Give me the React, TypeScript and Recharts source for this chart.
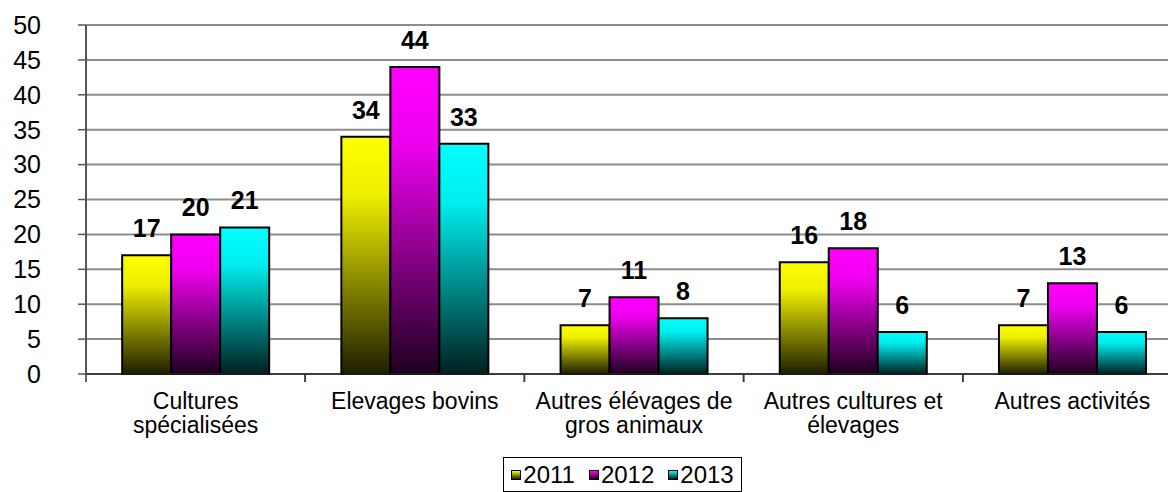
import React from 'react'
import { BarChart, Bar, XAxis, YAxis, CartesianGrid, LabelList } from 'recharts'

const categories = [
  'Cultures spécialisées',
  'Elevages bovins',
  'Autres élévages de gros animaux',
  'Autres cultures et élevages',
  'Autres activités',
]
// how each category label wraps under the axis
const categoryLines: Record<string, string[]> = {
  'Cultures spécialisées': ['Cultures', 'spécialisées'],
  'Elevages bovins': ['Elevages bovins'],
  'Autres élévages de gros animaux': ['Autres élévages de', 'gros animaux'],
  'Autres cultures et élevages': ['Autres cultures et', 'élevages'],
  'Autres activités': ['Autres activités'],
}
const values2011 = [17, 34, 7, 16, 7]
const values2012 = [20, 44, 11, 18, 13]
const values2013 = [21, 33, 8, 6, 6]
const yTicks = [0, 5, 10, 15, 20, 25, 30, 35, 40, 45, 50]
const years = ['2011', '2012', '2013']

const data = categories.map((name, i) => ({
  name,
  y2011: values2011[i],
  y2012: values2012[i],
  y2013: values2013[i],
}))

const FONT = '"Liberation Sans", Arial, Helvetica, sans-serif'
const CHART_W = 1190
const MARGIN = { top: 25, right: 8, left: 0, bottom: 0 }
const Y_W = 86
const BAND = (CHART_W - Y_W - MARGIN.right) / categories.length

// top colour -> bottom colour, per year
const gradients = [
  { id: 'g2011', top: '#ffff00', mid: '#eeee00', bottom: '#1e1e00' },
  { id: 'g2012', top: '#ff00ff', mid: '#ee00ee', bottom: '#1e001e' },
  { id: 'g2013', top: '#00ffff', mid: '#00eeee', bottom: '#002020' },
]

function CategoryTick(props: any) {
  const { x, y, payload } = props
  const half = payload?.offset || BAND / 2
  const lines = categoryLines[payload.value] ?? [payload.value]
  return (
    <g>
      <line x1={x - half} x2={x - half} y1={y} y2={y + 8} stroke="#333" strokeWidth={1.5} />
      <line x1={x + half} x2={x + half} y1={y} y2={y + 8} stroke="#333" strokeWidth={1.5} />
      <text x={x} y={y} textAnchor="middle" fontSize={23} fontFamily={FONT} fill="#000">
        {lines.map((l, i) => (
          <tspan key={i} x={x} dy={i === 0 ? 35 : 24}>{l}</tspan>
        ))}
      </text>
    </g>
  )
}

const labelProps = { position: 'top' as const, offset: 18, fill: '#000', fontSize: 25, fontWeight: 700, fontFamily: FONT }

export default function App() {
  return (
    <div style={{ position: 'fixed', left: 0, top: 0, width: 1168, height: 492, overflow: 'hidden', background: '#fff' }}>
      <BarChart width={CHART_W} height={492} data={data} margin={MARGIN} barCategoryGap="16.5%" barGap={0}>
        <defs>
          {gradients.map(g => (
            <linearGradient key={g.id} id={g.id} x1="0" y1="0" x2="0" y2="1">
              <stop offset="0%" stopColor={g.top} />
              <stop offset="25%" stopColor={g.mid} />
              <stop offset="100%" stopColor={g.bottom} />
            </linearGradient>
          ))}
        </defs>
        <CartesianGrid vertical={false} stroke="#8c8c8c" strokeWidth={2} />
        <XAxis
          dataKey="name"
          height={118}
          tick={<CategoryTick />}
          tickLine={false}
          tickSize={0}
          tickMargin={0}
          interval={0}
          axisLine={{ stroke: '#222', strokeWidth: 1.5 }}
        />
        <YAxis
          width={Y_W}
          domain={[0, 50]}
          ticks={yTicks}
          interval={0}
          tickSize={8}
          tickMargin={37}
          tick={{ fontSize: 25, fill: '#000', fontFamily: FONT }}
          tickLine={{ stroke: '#555', strokeWidth: 1.5 }}
          axisLine={{ stroke: '#555', strokeWidth: 2 }}
        />
        <Bar dataKey="y2011" fill="url(#g2011)" stroke="#000" strokeWidth={2} isAnimationActive={false}>
          <LabelList dataKey="y2011" {...labelProps} />
        </Bar>
        <Bar dataKey="y2012" fill="url(#g2012)" stroke="#000" strokeWidth={2} isAnimationActive={false}>
          <LabelList dataKey="y2012" {...labelProps} />
        </Bar>
        <Bar dataKey="y2013" fill="url(#g2013)" stroke="#000" strokeWidth={2} isAnimationActive={false}>
          <LabelList dataKey="y2013" {...labelProps} />
        </Bar>
      </BarChart>
      <div
        style={{
          position: 'absolute', left: 503, top: 457, width: 239, height: 35, boxSizing: 'border-box',
          border: '1px solid #000', display: 'flex', alignItems: 'center', justifyContent: 'center',
          gap: 14, fontFamily: FONT, fontSize: 24, color: '#000', background: '#fff',
        }}
      >
        {years.map((yr, i) => (
          <div key={yr} style={{ display: 'flex', alignItems: 'center' }}>
            <span
              style={{
                display: 'inline-block', width: 10, height: 10, boxSizing: 'border-box', border: '1.5px solid #000',
                background: `linear-gradient(${gradients[i].top}, ${gradients[i].bottom})`, marginRight: 2,
              }}
            />
            <span>{yr}</span>
          </div>
        ))}
      </div>
    </div>
  )
}
